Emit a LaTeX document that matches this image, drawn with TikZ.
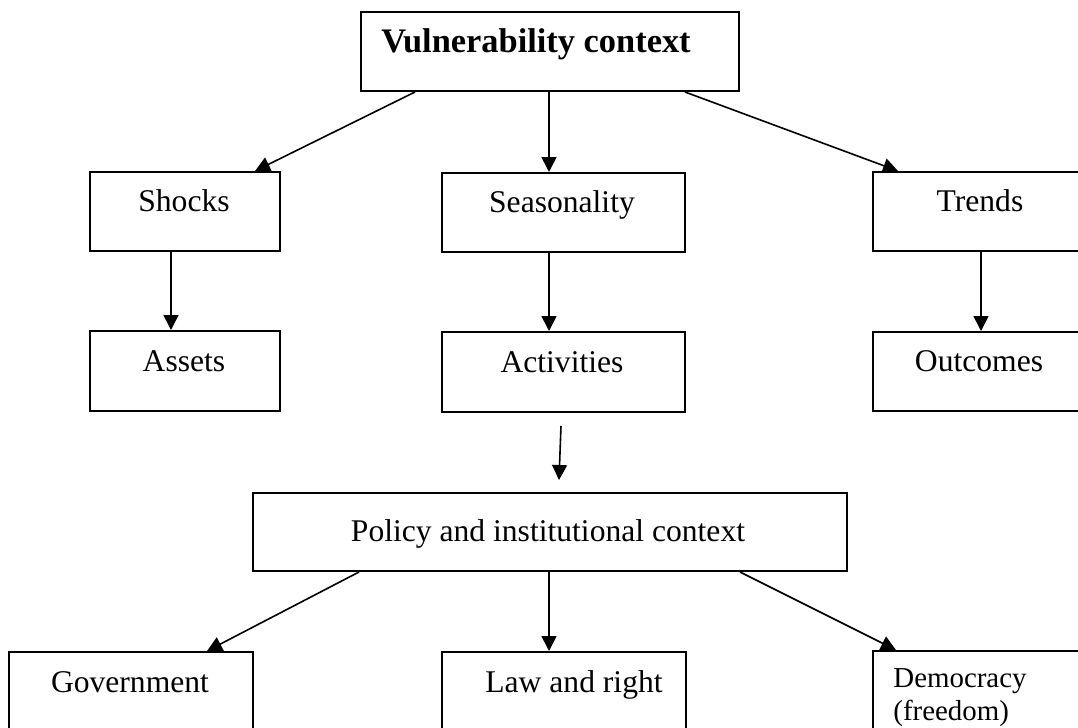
\documentclass[tikz,border=0pt]{standalone}
\usepackage{fontspec}
\setmainfont{Liberation Serif}
\usetikzlibrary{arrows.meta,calc}
\begin{document}
\begin{tikzpicture}[x=0.5pt,y=-0.5pt,
  box/.style={draw,line width=1pt,inner sep=0pt,anchor=north west},
  lbl/.style={anchor=base,inner sep=0pt,font=\fontsize{15.8}{19}\selectfont},
  link/.style={line width=0.8pt,-{Triangle[length=7.5pt,width=7.5pt]}}]
\useasboundingbox (0,0) rectangle (1078,728);
\clip (0,0) rectangle (1078,728);

% boxes
\node[box,minimum width=189pt,minimum height=39.5pt] (vul) at (360,11) {};
\node[box,minimum width=95pt,minimum height=39.5pt] (shocks) at (89,171) {};
\node[box,minimum width=121.5pt,minimum height=39.5pt] (seas) at (441,172) {};
\node[box,minimum width=109pt,minimum height=39.5pt] (trends) at (872,171) {};
\node[box,minimum width=95pt,minimum height=40pt] (assets) at (89,330) {};
\node[box,minimum width=121.5pt,minimum height=40pt] (activ) at (441,331) {};
\node[box,minimum width=109pt,minimum height=39.5pt] (outc) at (872,331) {};
\node[box,minimum width=297pt,minimum height=39pt] (policy) at (252,492) {};
\node[box,minimum width=122pt,minimum height=50pt] (govt) at (8,651) {};
\node[box,minimum width=122pt,minimum height=50pt] (law) at (441,651) {};
\node[box,minimum width=109pt,minimum height=50pt] (demo) at (872,650) {};

% labels
\node[anchor=base west,inner sep=0pt,font=\fontsize{17.2}{20}\selectfont\bfseries] (vul-t) at (381,53) {Vulnerability context};
\node[lbl] (shocks-t) at (184,211) {Shocks};
\node[lbl] (seas-t) at (562,212) {Seasonality};
\node[lbl] (trends-t) at (980,211) {Trends};
\node[lbl] (assets-t) at (184,371) {Assets};
\node[lbl] (activ-t) at (562,372) {Activities};
\node[lbl] (outc-t) at (979,371) {Outcomes};
\node[lbl] (policy-t) at (548,541) {Policy and institutional context};
\node[lbl] (govt-t) at (130,692) {Government};
\node[lbl] (law-t) at (574,692) {Law and right};
\node[anchor=base west,inner sep=0pt,align=left,font=\fontsize{14.45}{16.5}\selectfont] (demo-t) at (893,720) {Democracy\\(freedom)};

% connectors
\draw[link] ($(vul.south west)+(55,0)$) -- ($(shocks.north west)+(166,0)$);
\draw[link] ($(vul.south west)+(189,0)$) -- ($(seas.north west)+(108,0)$);
\draw[link] ($(vul.south west)+(325,0)$) -- ($(trends.north west)+(26,0)$);
\draw[link] ($(shocks.south west)+(82,0)$) -- ($(assets.north west)+(82,0)$);
\draw[link] ($(seas.south west)+(108,0)$) -- ($(activ.north west)+(108,0)$);
\draw[link] ($(trends.south west)+(109,0)$) -- ($(outc.north west)+(109,0)$);
\coordinate (fa) at (561,426);
\coordinate (fb) at (559,480);
\draw[link] (fa) -- (fb);
\draw[link] ($(policy.south west)+(107,0)$) -- ($(govt.north west)+(199,0)$);
\draw[link] ($(policy.south west)+(297,0)$) -- ($(law.north west)+(108,0)$);
\draw[link] ($(policy.south west)+(488,0)$) -- ($(demo.north west)+(24,0)$);
\end{tikzpicture}
\end{document}
